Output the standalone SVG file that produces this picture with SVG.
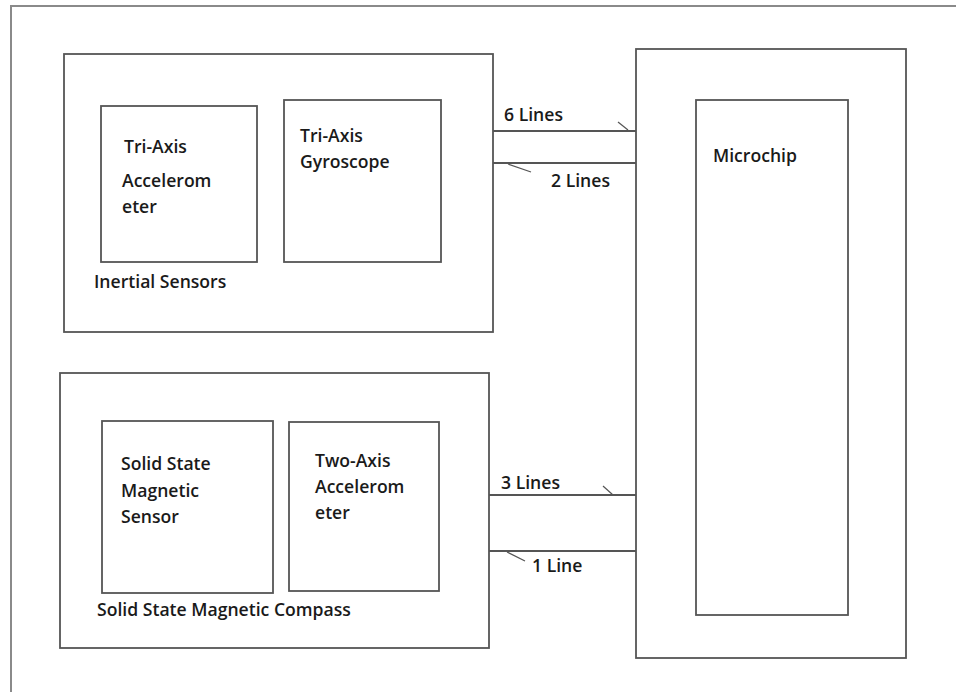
<svg xmlns="http://www.w3.org/2000/svg" width="956" height="692" viewBox="0 0 956 692">
<style>
.frame{fill:none;stroke:#8a8a8a;stroke-width:2}
.box{fill:#fff;stroke:#555;stroke-width:1.8}
.wire{stroke:#555;stroke-width:1.8;fill:none}
.tick{stroke:#555;stroke-width:1.2;fill:none}
text{font-family:"Open Sans","Liberation Sans",sans-serif;font-size:17.6px;fill:#1a1a1a;font-weight:600}
</style>
<rect width="956" height="692" fill="#fff"/>
<path class="frame" d="M11,692 V6 H956"/>
<g id="inertial-sensors">
<rect class="box" x="64" y="54" width="429" height="278"/>
<text x="94" y="288">Inertial Sensors</text>
</g>
<g id="tri-axis-accelerometer">
<rect class="box" x="101" y="106" width="156" height="156"/>
<text x="124" y="153">Tri-Axis</text>
<text x="122" y="187">Accelerom</text>
<text x="122" y="213">eter</text>
</g>
<g id="tri-axis-gyroscope">
<rect class="box" x="284" y="100" width="157" height="162"/>
<text x="300" y="142">Tri-Axis</text>
<text x="300" y="168">Gyroscope</text>
</g>
<g id="magnetic-compass">
<rect class="box" x="60" y="373" width="429" height="275"/>
<text x="97" y="616">Solid State Magnetic Compass</text>
</g>
<g id="magnetic-sensor">
<rect class="box" x="102" y="421" width="171" height="172"/>
<text x="121" y="470">Solid State</text>
<text x="121" y="497">Magnetic</text>
<text x="121" y="523">Sensor</text>
</g>
<g id="two-axis-accelerometer">
<rect class="box" x="289" y="422" width="150" height="169"/>
<text x="315" y="467">Two-Axis</text>
<text x="315" y="493">Accelerom</text>
<text x="315" y="519">eter</text>
</g>
<g id="microchip-outer">
<rect class="box" x="636" y="49" width="270" height="609"/>
</g>
<g id="microchip">
<rect class="box" x="696" y="100" width="152" height="515"/>
<text x="713" y="162">Microchip</text>
</g>
<g id="connectors">
<line class="wire" x1="493" y1="131" x2="636" y2="131"/>
<line class="tick" x1="618" y1="122" x2="628" y2="130"/>
<text x="504" y="121">6 Lines</text>
<line class="wire" x1="493" y1="163" x2="636" y2="163"/>
<line class="tick" x1="508" y1="164" x2="531" y2="172"/>
<text x="551" y="187">2 Lines</text>
<line class="wire" x1="489" y1="495" x2="636" y2="495"/>
<line class="tick" x1="603" y1="486" x2="613" y2="495"/>
<text x="501" y="489">3 Lines</text>
<line class="wire" x1="489" y1="551" x2="636" y2="551"/>
<line class="tick" x1="507" y1="552" x2="525" y2="561"/>
<text x="532" y="572">1 Line</text>
</g>
</svg>
